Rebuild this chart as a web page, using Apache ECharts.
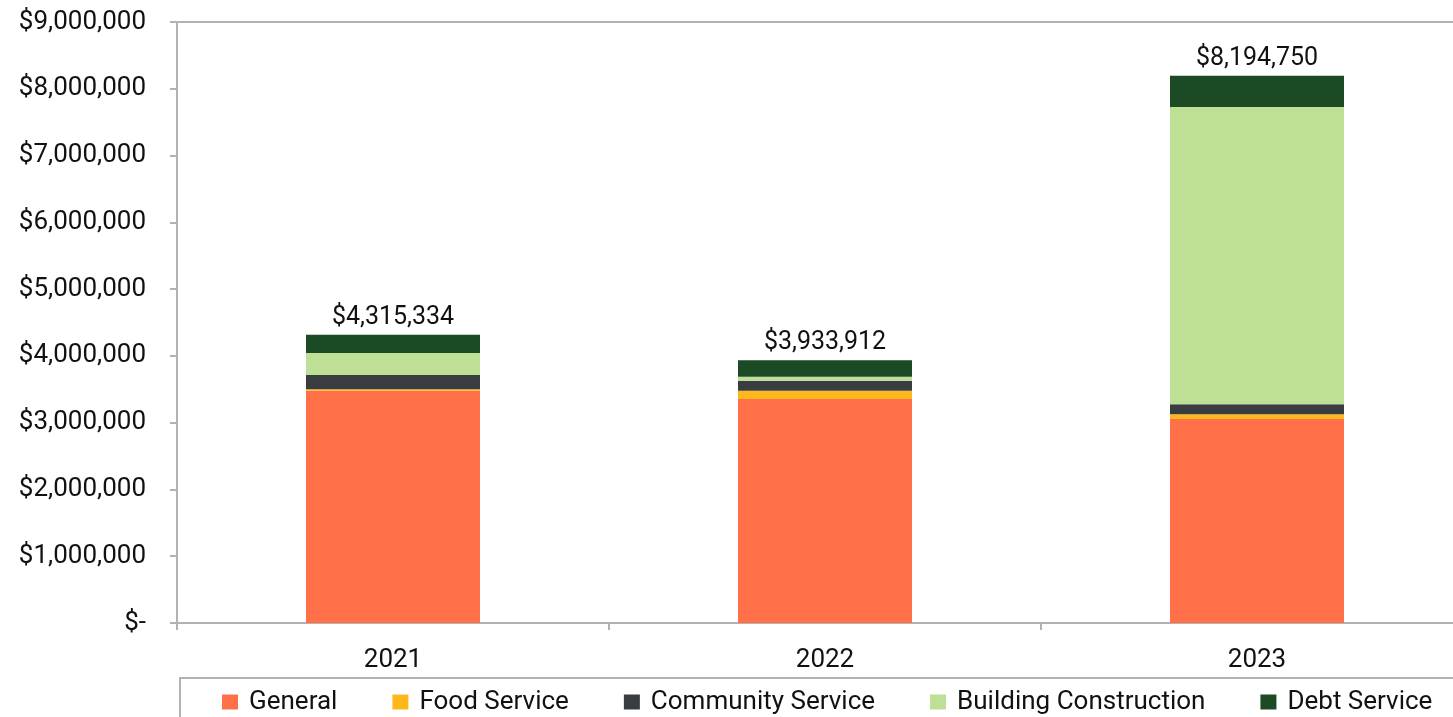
<!DOCTYPE html>
<html><head><meta charset="utf-8">
<script src="https://cdn.jsdelivr.net/npm/echarts@6/dist/echarts.min.js"></script>
<style>html,body{margin:0;padding:0;background:#fff;overflow:hidden;width:1453px;height:717px}#c{width:1473px;height:717px}</style>
</head><body><div id="c"></div>
<script>
const categories = ['2021', '2022', '2023'];
const general = [3479000, 3354000, 3055000];
const foodService = [21000, 125000, 70000];
const communityService = [214000, 149000, 150000];
const buildingConstruction = [329000, 60000, 4452000];
const debtService = [272334, 245912, 467750];
const totals = [4315334, 3933912, 8194750];
const yTicks = [0, 1000000, 2000000, 3000000, 4000000, 5000000, 6000000, 7000000, 8000000, 9000000];

const font = 'Roboto, "Noto Sans", sans-serif';
const txt = '#111';
const axisCol = '#b3b3b3';
function money(v){ return v === 0 ? '$-' : '$' + v.toLocaleString('en-US'); }

const seriesDefs = [
  ['General', general, '#FF7048'],
  ['Food Service', foodService, '#FFB81C'],
  ['Community Service', communityService, '#393D42'],
  ['Building Construction', buildingConstruction, '#BDE096'],
  ['Debt Service', debtService, '#1B4A24']
];

const series = seriesDefs.map(([name, data, color], i) => {
  const s = { name, type: 'bar', stack: 'total', data, barWidth: 174,
    itemStyle: { color }, emphasis: { disabled: true } };
  if (i === seriesDefs.length - 1) {
    s.label = { show: true, position: 'top', distance: 5, color: txt, fontFamily: font, fontSize: 25,
      formatter: p => money(totals[p.dataIndex]) };
  }
  return s;
});

const chart = echarts.init(document.getElementById('c'), null, { renderer: 'canvas' });
chart.setOption({
  animation: false,
  grid: { left: 177, top: 22, right: 0, bottom: 94, show: true, borderColor: axisCol, borderWidth: 2 },
  xAxis: { type: 'category', data: categories,
    axisLine: { lineStyle: { color: axisCol, width: 2 } },
    axisTick: { show: true, length: 7, lineStyle: { color: axisCol, width: 2 } },
    axisLabel: { color: txt, fontFamily: font, fontSize: 26, margin: 24 } },
  yAxis: { type: 'value', min: 0, max: 9000000, interval: 1000000,
    axisLine: { show: true, lineStyle: { color: axisCol, width: 2 } },
    axisTick: { show: true, length: 7, lineStyle: { color: axisCol, width: 2 } },
    splitLine: { show: false },
    axisLabel: { color: txt, fontFamily: font, fontSize: 26, margin: 31, formatter: v => money(v) } },
  legend: { left: 222, top: 689, padding: 0, itemWidth: 16, itemHeight: 15, itemGap: 55, icon: 'rect',
    textStyle: { color: txt, fontFamily: font, fontSize: 26, padding: [0, 0, 0, 6] } },
  graphic: [{ type: 'rect', shape: { x: 180, y: 678, width: 1400, height: 100 },
    style: { fill: 'none', stroke: axisCol, lineWidth: 2 }, silent: true }],
  series
});
</script></body></html>
